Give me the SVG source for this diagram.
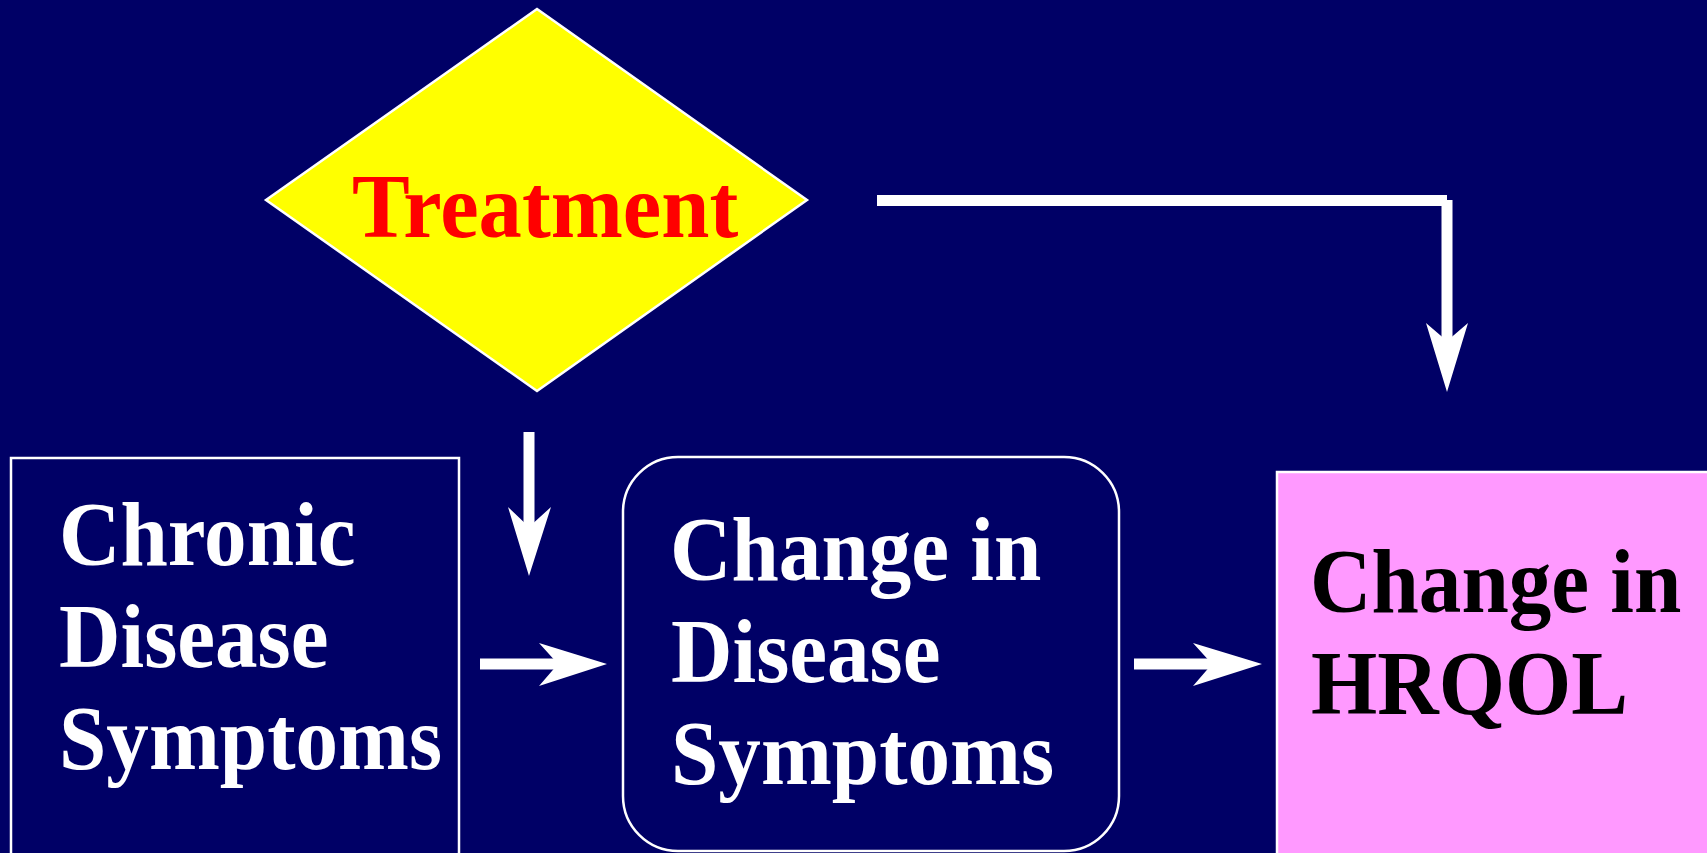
<svg xmlns="http://www.w3.org/2000/svg" width="1707" height="853" viewBox="0 0 1707 853">
<style>
.t{font-family:"Liberation Serif","Times New Roman",serif;font-weight:bold;font-size:90px}
.w{fill:#FFFFFF}
.box{stroke:#FFFFFF;stroke-width:2.5}
</style>
<rect x="0" y="0" width="1707" height="853" fill="#000066"/>
<g id="treatment">
<polygon points="537,9 807,200 537,391 266,200" fill="#FFFF00" stroke="#FFFFFF" stroke-width="2.5"/>
<text class="t" transform="matrix(0.962 0 0 1 352 237)" fill="#FF0000">Treatment</text>
</g>
<g id="chronic">
<rect class="box" x="11" y="458" width="448" height="420" fill="#000066"/>
<text class="t w" transform="matrix(0.946 0 0 1 59 565)">Chronic</text>
<text class="t w" transform="matrix(0.946 0 0 1 59 667)">Disease</text>
<text class="t w" transform="matrix(0.946 0 0 1 59 769)">Symptoms</text>
</g>
<g id="change-symptoms">
<rect class="box" x="623" y="457" width="496" height="394" rx="55" ry="55" fill="#000066"/>
<text class="t w" transform="matrix(0.946 0 0 1 670 580)">Change in</text>
<text class="t w" transform="matrix(0.946 0 0 1 671 682)">Disease</text>
<text class="t w" transform="matrix(0.946 0 0 1 671 784)">Symptoms</text>
</g>
<g id="hrqol">
<rect class="box" x="1277" y="472" width="450" height="420" fill="#FF99FF"/>
<text class="t" transform="matrix(0.946 0 0 1 1310 612)" fill="#000000">Change in</text>
<text class="t" transform="matrix(0.946 0 0 1 1311 714)" fill="#000000">HRQOL</text>
</g>
<g id="connectors" fill="#FFFFFF">
<rect x="877" y="195" width="570" height="11"/>
<rect x="1441.5" y="200" width="11" height="142"/>
<polygon points="1426,323 1447,341 1468,323 1447,392"/>
<rect x="523.5" y="432" width="11" height="96"/>
<polygon points="508,507 529,527 551,507 529,576"/>
<rect x="480" y="658.5" width="79" height="11"/>
<polygon points="539,643 558,664 539,686 607,664"/>
<rect x="1134" y="658.5" width="79" height="11"/>
<polygon points="1193,643 1212,664 1193,686 1262,664"/>
</g>
</svg>
